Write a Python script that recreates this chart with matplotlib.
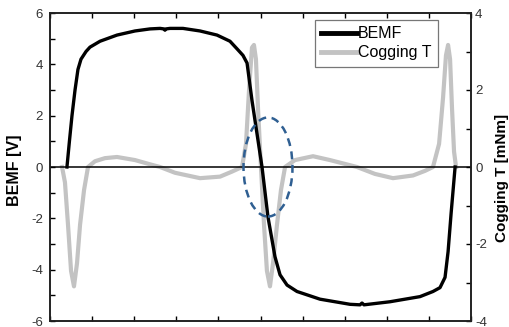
import numpy as np
import matplotlib
matplotlib.use("Agg")
from matplotlib import pyplot as plt
from matplotlib.patches import Ellipse

plt.rcParams['font.family'] = ['Liberation Sans', 'DejaVu Sans']
plt.rcParams['axes.unicode_minus'] = False

# electrical angle [deg] and BEMF [V]
BEMF_X = [14.5, 16.6, 18.8, 21.4, 23.9, 26.5, 30.8, 34.2, 42.8, 57.3, 72.7, 85.5,
          94.1, 97.4, 98.3, 99.2, 102.6, 113.7, 128.3, 142.8, 153.9, 160.0, 165.0,
          168.5, 172.7, 181.3, 186.4, 192.4, 196.7, 202.7, 211.2, 230.9, 256.6,
          265.1, 266.8, 268.5, 290.7, 316.4, 327.5, 333.5, 337.8, 340.4, 343.0, 346.4]
BEMF_Y = [0, 1.0, 2.0, 3.0, 3.8, 4.2, 4.5, 4.67, 4.9, 5.14, 5.3, 5.38,
          5.4, 5.38, 5.33, 5.38, 5.4, 5.4, 5.3, 5.14, 4.9, 4.6, 4.35,
          4.05, 2.6, 0, -1.95, -3.5, -4.2, -4.6, -4.85, -5.15, -5.35,
          -5.37, -5.3, -5.37, -5.25, -5.05, -4.85, -4.7, -4.3, -3.3, -1.8, 0]

# cogging torque [mNm]
COG_X = [10.3, 12.8, 15.4, 18.0, 20.5, 23.1, 25.7, 29.1, 32.5, 38.5, 47.0, 57.3,
         72.7, 85.5, 94.1, 106.9, 128.3, 145.4, 155.6, 164.2, 167.6, 170.2, 172.7,
         174.4, 176.1, 177.9, 180.4, 183.0, 185.5, 188.1, 190.7, 194.1, 197.5,
         201.0, 209.5, 224.9, 239.4, 262.5, 277.9, 293.3, 310.4, 320.7, 327.5,
         332.7, 336.1, 338.6, 340.4, 342.1, 343.8, 345.5, 347.2]
COG_Y = [0, -0.4, -1.5, -2.7, -3.1, -2.5, -1.5, -0.6, 0, 0.15, 0.23, 0.26,
         0.18, 0.07, 0, -0.15, -0.29, -0.25, -0.12, 0, 0.6, 2.0, 3.1,
         3.17, 2.8, 1.5, 0, -1.5, -2.7, -3.1, -2.5, -1.5, -0.6,
         0, 0.18, 0.28, 0.18, 0, -0.18, -0.29, -0.22, -0.1, 0,
         0.6, 1.8, 2.9, 3.17, 2.8, 1.5, 0.4, 0]

fig = plt.figure(figsize=(5.09, 3.27), dpi=100)
ax = fig.add_axes([50/509, 6/327, 421/509, 308/327])
ax2 = ax.twinx()

ax.axhline(0, color='black', lw=1.1, zorder=1)
l1, = ax.plot(BEMF_X, BEMF_Y, color='black', lw=2.4, label='BEMF', zorder=3)
l2, = ax2.plot(COG_X, COG_Y, color='#c3c3c3', lw=3.0, label='Cogging T', zorder=2)

ell = Ellipse((186.4, 0), 41.9, 3.86, fill=False, edgecolor='#2f5f92',
              lw=1.8, ls=(0, (3.2, 2.2)), zorder=5)
ax.add_patch(ell)

ax.set_xlim(0, 360)
ax.set_ylim(-6, 6)
ax2.set_ylim(-4, 4)
ax.set_xticks(np.arange(0, 361, 36))
ax.set_xticklabels([])
ax.set_yticks([-6, -4, -2, 0, 2, 4, 6])
ax.set_yticks([-5, -3, -1, 1, 3, 5], minor=True)
ax2.set_yticks([-4, -2, 0, 2, 4])
ax2.set_yticks([-3, -1, 1, 3], minor=True)

for a in (ax, ax2):
    for s in a.spines.values():
        s.set_linewidth(1.2)
        s.set_color('#222222')
ax.tick_params(axis='both', which='both', direction='in', length=3.5, width=1,
               top=True, labelsize=9.5, labelcolor='#333333', pad=5)
ax2.tick_params(axis='y', which='both', direction='in', length=3.5, width=1,
                labelsize=9.5, labelcolor='#333333', pad=3)

# axis titles placed in figure pixels
fig.text(15/509, 1 - 170/327, 'BEMF [V]', rotation=90, ha='center', va='center',
         fontsize=11.5, fontweight='bold')
fig.text(502/509, 1 - 178/327, 'Cogging T [mNm]', rotation=90, ha='center',
         va='center', fontsize=11, fontweight='bold')

ax2.set_zorder(ax.get_zorder() - 1)
ax.patch.set_visible(False)

leg = ax.legend([l1, l2], ['BEMF', 'Cogging T'], loc='upper right',
                bbox_to_anchor=(0.9216, 0.977), fontsize=11.5, frameon=True,
                fancybox=False, edgecolor='#555555', handlelength=2.2,
                handletextpad=0.1, borderpad=0.4, labelspacing=0.25,
                borderaxespad=0)
leg.get_frame().set_linewidth(0.9)
for h in leg.get_lines():
    h.set_linewidth(3.5)

fig.savefig('out.png', dpi=100)
